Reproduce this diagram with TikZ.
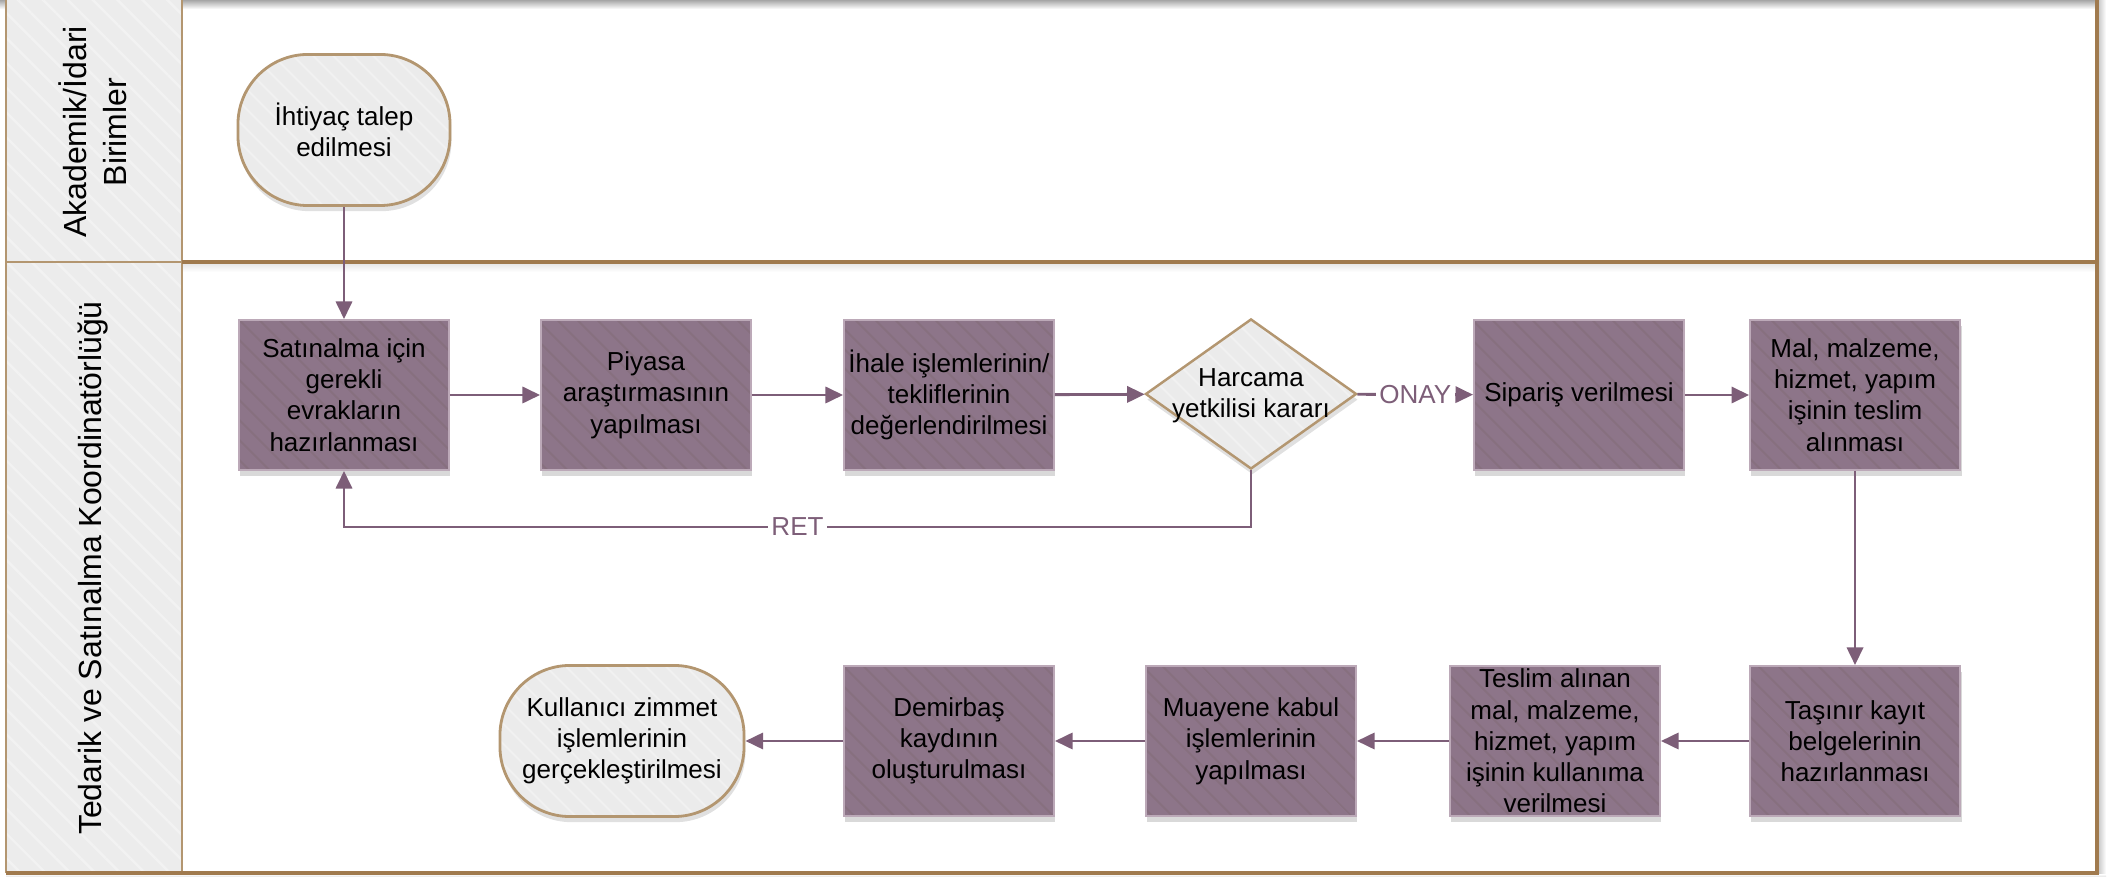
\documentclass[tikz,border=0pt]{standalone}
\usepackage{fontspec}
\setmainfont{Liberation Sans}
\usetikzlibrary{arrows.meta,shapes.geometric,shadows,patterns.meta}
\definecolor{boxfill}{HTML}{8D7589}
\definecolor{boxstripe}{HTML}{87707F}
\definecolor{boxborder}{HTML}{BCA9B8}
\definecolor{termfill}{HTML}{EBEBEB}
\definecolor{termstripe}{HTML}{F1F1F1}
\definecolor{tanline}{HTML}{B39670}
\definecolor{lanebrown}{HTML}{A07A4E}
\definecolor{arrowc}{HTML}{7D5E78}
\definecolor{hdrfill}{HTML}{ECECEC}
\definecolor{hdrstripe}{HTML}{F2F2F2}
\begin{document}
\begin{tikzpicture}[x=0.01cm,y=-0.01cm,
  txt/.style={font=\fontsize{7.4}{8.9}\selectfont, align=center},
  proc/.style={txt, rectangle, minimum width=2.1cm, minimum height=1.5cm, inner sep=0pt,
    drop shadow={shadow xshift=0.4pt, shadow yshift=-1.6pt, opacity=0.15, fill=black},
    preaction={fill=boxfill},
    pattern={Lines[angle=-45,distance=4pt,line width=0.6pt]}, pattern color=boxstripe,
    draw=boxborder, line width=0.5pt},
  term/.style={txt, rectangle, rounded corners=0.7cm, minimum width=2.12cm, minimum height=1.51cm,
    inner sep=0pt,
    drop shadow={shadow xshift=0.4pt, shadow yshift=-1.6pt, opacity=0.12, fill=black},
    preaction={fill=termfill},
    pattern={Lines[angle=-45,distance=4pt,line width=0.6pt]}, pattern color=termstripe,
    draw=tanline, line width=0.8pt},
  dec/.style={diamond, minimum width=2.11cm, minimum height=1.5cm, inner sep=0pt,
    drop shadow={shadow xshift=0.4pt, shadow yshift=-1.6pt, opacity=0.12, fill=black},
    preaction={fill=termfill},
    pattern={Lines[angle=-45,distance=4pt,line width=0.6pt]}, pattern color=termstripe,
    draw=tanline, line width=0.7pt},
  lanelbl/.style={font=\fontsize{9.1}{11.4}\selectfont, align=center, rotate=90},
  arr/.style={draw=arrowc, line width=0.8pt, -{Triangle[length=5pt,width=4.6pt]}},
  lbl/.style={txt, fill=white, text=arrowc, inner sep=1pt}
]
\useasboundingbox (0,0) rectangle (2125,877);
% shadows of the frame
\shade[top color=black!35, bottom color=white] (0,0) rectangle (2104,9);
\shade[left color=black!22, right color=white] (2098,0) rectangle (2106,878);
\shade[top color=white, bottom color=black!22] (6,874) rectangle (2106,880);
\shade[top color=black!10, bottom color=white] (183,263) rectangle (2096,272);
% header column
\fill[hdrfill] (6,0) rectangle (182,873);
\fill[pattern={Lines[angle=-45,distance=5pt,line width=0.7pt]}, pattern color=hdrstripe] (6,0) rectangle (182,873);
\draw[tanline, line width=0.8pt] (6,0) -- (6,873);
\draw[tanline, line width=0.8pt] (182,0) -- (182,873);
\draw[tanline, line width=0.8pt] (6,262) -- (182,262);
% lane lines
\draw[lanebrown, line width=1pt] (182,262) -- (2097,262);
\draw[lanebrown, line width=1pt] (2097,0) -- (2097,873) -- (6,873);
% lane labels
\node[lanelbl] (l1) at (93,132) {Akademik/İdari\\Birimler};
\node[lanelbl] (l2) at (93,568) {Tedarik ve Satınalma Koordinatörlüğü};
% nodes
\node[term] (start) at (344,130) {İhtiyaç talep\\edilmesi};
\node[proc] (b1) at (344,395) {Satınalma için\\gerekli\\evrakların\\hazırlanması};
\node[proc] (b2) at (646,395) {Piyasa\\araştırmasının\\yapılması};
\node[proc] (b3) at (949,395) {İhale işlemlerinin/\\tekliflerinin\\değerlendirilmesi};
\node[dec] (dec) at (1251,394) {};
\node[txt] (dectext) at (1251,396) {Harcama\\yetkilisi kararı};
\node[proc] (sip) at (1579,395) {Sipariş verilmesi};
\node[proc] (mal) at (1855,395) {Mal, malzeme,\\hizmet, yapım\\işinin teslim\\alınması};
\node[proc] (tas) at (1855,741) {Taşınır kayıt\\belgelerinin\\hazırlanması};
\node[proc] (tes) at (1555,741) {Teslim alınan\\mal, malzeme,\\hizmet, yapım\\işinin kullanıma\\verilmesi};
\node[proc] (mua) at (1251,741) {Muayene kabul\\işlemlerinin\\yapılması};
\node[proc] (dem) at (949,741) {Demirbaş\\kaydının\\oluşturulması};
\node[term, minimum width=2.44cm] (end) at (622,741) {Kullanıcı zimmet\\işlemlerinin\\gerçekleştirilmesi};
% connectors
\draw[arr] (start) -- (b1);
\draw[arr] (b1) -- (b2);
\draw[arr] (b2) -- (b3);
\draw[arr] (b3) -- (dec);
\draw[arr] (dec) -- node[lbl] {ONAY} (sip);
\draw[arr] (sip) -- (mal);
\draw[arr] (mal) -- (tas);
\draw[arr] (tas) -- (tes);
\draw[arr] (tes) -- (mua);
\draw[arr] (mua) -- (dem);
\draw[arr] (dem) -- (end);
\coordinate (retc) at (1251,527);
\draw[arr] (dec.south) -- (retc) -| node[lbl, pos=0.25] {RET} (b1.south);
\end{tikzpicture}
\end{document}
